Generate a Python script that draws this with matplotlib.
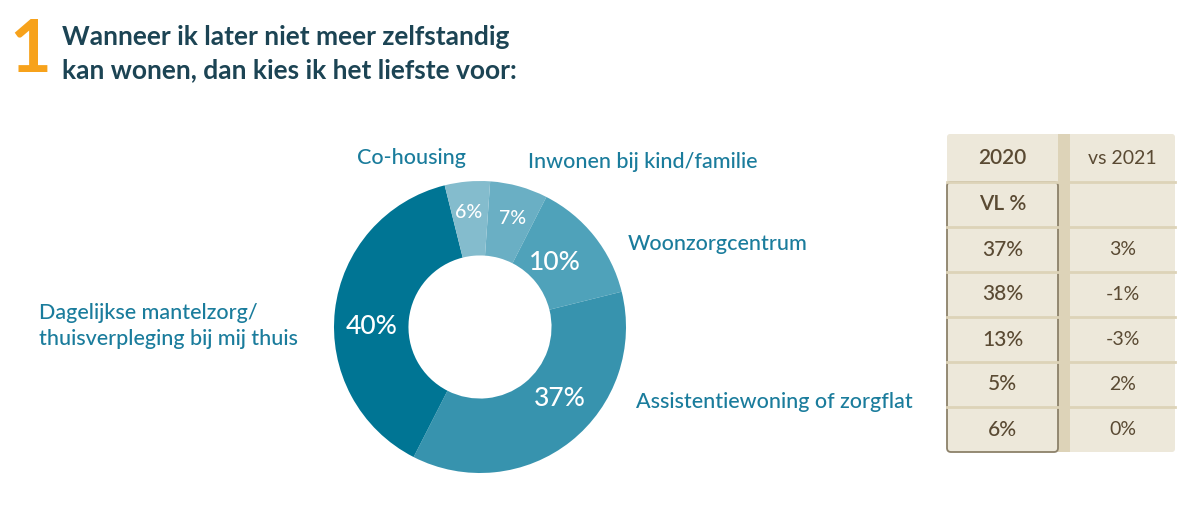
import matplotlib.pyplot as plt
from matplotlib.patches import Rectangle, FancyBboxPatch

labels = ["Inwonen bij kind/familie", "Woonzorgcentrum", "Assistentiewoning of zorgflat",
          "Dagelijkse mantelzorg/\nthuisverpleging bij mij thuis", "Co-housing"]
pct_text = ["7%", "10%", "37%", "40%", "6%"]
arc_share = [6.4, 13.6, 36.4, 38.6, 5.0]
colors = ["#6aafc4", "#4fa2ba", "#3793ae", "#007594", "#84bccd"]

# table data
tbl_header = ["2020", "vs 2021"]
tbl_sub = ["VL %", ""]
col_2020 = ["37%", "38%", "13%", "5%", "6%"]
col_diff = ["3%", "-1%", "-3%", "2%", "0%"]

W, H = 1200, 509
fig = plt.figure(figsize=(W / 100, H / 100), dpi=100)
fig.patch.set_facecolor("white")

# donut
cx, cy, R = 480, 327, 146
dax = fig.add_axes([(cx - R) / W, (H - cy - R) / H, 2 * R / W, 2 * R / H])
dax.pie(arc_share, colors=colors, startangle=86, counterclock=False, radius=1,
        wedgeprops=dict(width=0.51, linewidth=0))
dax.set_xlim(-1, 1)
dax.set_ylim(-1, 1)
dax.set_aspect("equal")
dax.axis("off")

# overlay axes in pixel coordinates for text and table
ax = fig.add_axes([0, 0, 1, 1])
ax.set_zorder(3)
ax.patch.set_alpha(0)
ax.set_xlim(0, W)
ax.set_ylim(H, 0)
ax.axis("off")

title_col = "#1c4454"
lab_col = "#1a7c9c"
font = "Lato"

ax.text(30, 51, "1", fontsize=52, color="#f7a21b", ha="center", va="center",
        family=font, fontweight="bold")
ax.text(62, 37, "Wanneer ik later niet meer zelfstandig", fontsize=19, color=title_col,
        family=font, fontweight="bold", va="center")
ax.text(62, 70, "kan wonen, dan kies ik het liefste voor:", fontsize=19, color=title_col,
        family=font, fontweight="bold", va="center")

pct_pos = [(513, 218), (555, 262), (560, 398), (372, 327), (469, 213)]
pct_size = [14, 19, 19, 19, 14]
for t, (px, py), s in zip(pct_text, pct_pos, pct_size):
    ax.text(px, py, t, color="white", fontsize=s, ha="center", va="center",
            family=font, fontweight="medium")

lab_pos = [(528, 162, "left"), (628, 244, "left"), (636, 402, "left"),
           (39, 326, "left"), (411, 158, "center")]
for t, (px, py, ha) in zip(labels, lab_pos):
    ax.text(px, py, t, color=lab_col, fontsize=15.5, ha=ha, va="center", family=font,
            fontweight="medium", linespacing=1.35)

# table
tx0, tx1, sep0, sep1, tx2 = 947, 1058, 1058, 1070, 1175
ty0, ty1, rh = 134, 182, 45
cell = "#ede8da"
line = "#ddd3b8"
txt = "#5a4a33"
nrows = 1 + len(col_2020)
ybot = ty1 + nrows * rh
ax.add_patch(FancyBboxPatch((tx0, ty0), tx2 - tx0, ybot - ty0,
                            boxstyle="round,pad=0,rounding_size=3",
                            facecolor=cell, edgecolor="none"))
ax.add_patch(Rectangle((sep0, ty0), sep1 - sep0, ybot - ty0, facecolor=line, edgecolor="none"))
for i in range(nrows):
    y = ty1 + i * rh
    ax.plot([tx0, sep0], [y, y], color=line, lw=2)
    ax.plot([sep1, tx2], [y, y], color=line, lw=2)
ax.add_patch(FancyBboxPatch((tx0, ty1), tx1 - tx0, ybot - ty1,
                            boxstyle="round,pad=0,rounding_size=4",
                            facecolor="none", edgecolor="#8c816a", lw=1.3))

lc, rc = (tx0 + tx1) / 2, (sep1 + tx2) / 2
ax.text(lc, (ty0 + ty1) / 2, tbl_header[0], ha="center", va="center", fontsize=15,
        color=txt, family=font, fontweight="semibold")
ax.text(rc, (ty0 + ty1) / 2, tbl_header[1], ha="center", va="center", fontsize=14,
        color=txt, family=font, fontweight="normal")
ax.text(lc, ty1 + rh / 2, tbl_sub[0], ha="center", va="center", fontsize=15,
        color=txt, family=font, fontweight="semibold")
for i, (a, b) in enumerate(zip(col_2020, col_diff)):
    y = ty1 + (i + 1.5) * rh
    ax.text(lc, y, a, ha="center", va="center", fontsize=15, color=txt,
            family=font, fontweight="medium")
    ax.text(rc, y, b, ha="center", va="center", fontsize=14, color=txt,
            family=font, fontweight="normal")

fig.savefig("out.png", dpi=100, facecolor="white")
